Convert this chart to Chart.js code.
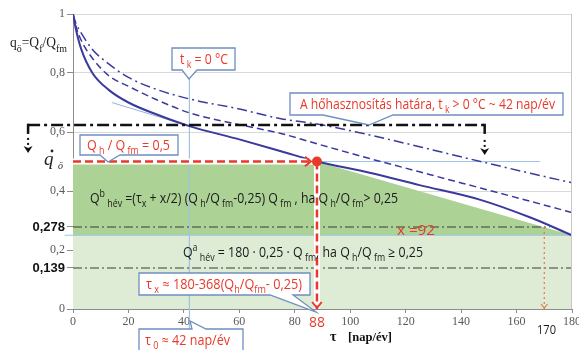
<!DOCTYPE html>
<html>
<head>
<meta charset="utf-8">
<script src="https://cdn.jsdelivr.net/npm/chart.js@4"></script>
<style>
html,body{margin:0;padding:0;background:#fff}
</style>
</head>
<body>
<canvas id="chart" width="579" height="350"></canvas>
<script>
// duration curves
const days     = [0, 1, 3, 7, 13, 20, 30, 42, 60, 75, 88, 107, 125, 147, 165, 180];
const qSolid   = [1, 0.95, 0.88, 0.80, 0.742, 0.70, 0.66, 0.62, 0.575, 0.535, 0.50, 0.462, 0.42, 0.37, 0.31, 0.25];
const qDashed  = [1, 0.96, 0.91, 0.85, 0.79, 0.755, 0.71, 0.665, 0.625, 0.595, 0.56, 0.51, 0.465, 0.41, 0.365, 0.327];
const qDashDot = [1, 0.97, 0.935, 0.88, 0.83, 0.785, 0.745, 0.712, 0.678, 0.645, 0.627, 0.59, 0.55, 0.50, 0.46, 0.428];
const tangentDays = [14, 42];
const tangentQ    = [0.70, 0.62];

const xTicks = [0, 20, 40, 60, 80, 100, 120, 140, 160, 180];
const yTicks = [0, 0.2, 0.4, 0.6, 0.8, 1];
const yMarks = [0.139, 0.278];

const tauX = 88, tauMax = 170, tau0 = 42;
const qh = 0.5, qMin = 0.25, qLimit = 0.624;

const red = '#e8392b';
const blue = '#3a3a9c';
const pts = (xs, ys) => xs.map((x, i) => ({x: x, y: ys[i]}));
const clear = 'rgba(0,0,0,0)';

function rich(ctx, parts, left, base, o) {
  const f = k => (o.italic ? 'italic ' : '') + (o.weight || 'normal') + ' ' +
    (k === 'n' ? o.size : Math.round(o.size * 0.7)) + 'px ' + o.family;
  let w = 0;
  parts.forEach(p => { ctx.font = f(p[1]); w += ctx.measureText(p[0]).width; });
  const sx = o.width ? o.width / w : 1;
  ctx.save();
  ctx.translate(left, base);
  ctx.scale(sx, 1);
  ctx.fillStyle = o.color;
  ctx.textAlign = 'left';
  ctx.textBaseline = 'alphabetic';
  let cx = 0;
  parts.forEach(p => {
    ctx.font = f(p[1]);
    const dy = p[1] === 'sub' ? o.size * 0.3 : p[1] === 'sup' ? -o.size * 0.42 : 0;
    ctx.fillText(p[0], cx, dy);
    cx += ctx.measureText(p[0]).width;
  });
  ctx.restore();
}

function callout(ctx, x0, y0, x1, y1, side, ba, bb, tx, ty) {
  ctx.beginPath();
  ctx.moveTo(x0, y0);
  if (side === 'top') { ctx.lineTo(ba, y0); ctx.lineTo(tx, ty); ctx.lineTo(bb, y0); }
  ctx.lineTo(x1, y0);
  ctx.lineTo(x1, y1);
  if (side === 'bottom') { ctx.lineTo(bb, y1); ctx.lineTo(tx, ty); ctx.lineTo(ba, y1); }
  ctx.lineTo(x0, y1);
  ctx.closePath();
  ctx.fillStyle = '#fff';
  ctx.fill();
  ctx.strokeStyle = '#6f8fc0';
  ctx.lineWidth = 1.3;
  ctx.setLineDash([]);
  ctx.stroke();
}

function chevron(ctx, x, y, dir, s) {
  ctx.beginPath();
  if (dir === 'right') { ctx.moveTo(x - s, y - s * 0.8); ctx.lineTo(x, y); ctx.lineTo(x - s, y + s * 0.8); }
  else { ctx.moveTo(x - s * 0.8, y - s); ctx.lineTo(x, y); ctx.lineTo(x + s * 0.8, y - s); }
  ctx.stroke();
}

const annot = {
  id: 'annot',
  afterDatasetsDraw(chart) {
    const ctx = chart.ctx, X = chart.scales.x, Y = chart.scales.y, a = chart.chartArea;
    const px = v => X.getPixelForValue(v), py = v => Y.getPixelForValue(v);
    ctx.save();

    // right frame
    ctx.strokeStyle = '#c8c8c8'; ctx.lineWidth = 1;
    ctx.beginPath(); ctx.moveTo(a.right - 0.5, a.top); ctx.lineTo(a.right - 0.5, a.bottom); ctx.stroke();

    // red arrow heads
    ctx.setLineDash([]);
    ctx.strokeStyle = red; ctx.lineWidth = 2;
    chevron(ctx, px(tauX) - 6, py(qh), 'right', 6);
    chevron(ctx, px(tauX), py(0) - 1, 'down', 6);
    ctx.strokeStyle = '#f0704a'; ctx.lineWidth = 1.2;
    chevron(ctx, px(tauMax), py(0) - 1, 'down', 4);

    // heat use limit line with bent ends
    const y0 = py(qLimit), xl = px(-16.2), xr = px(148.5);
    ctx.strokeStyle = '#111'; ctx.fillStyle = '#111'; ctx.lineWidth = 2.5;
    ctx.setLineDash([12, 4, 3, 4]);
    ctx.beginPath(); ctx.moveTo(xl, y0); ctx.lineTo(xr, y0); ctx.stroke();
    ctx.setLineDash([]);
    [[xl, 28], [xr, 30]].forEach(([xx, len]) => {
      ctx.beginPath(); ctx.moveTo(xx, y0 - 1.2); ctx.lineTo(xx, y0 + 9); ctx.stroke();
      ctx.fillRect(xx - 1, y0 + len - 15, 2, 2);
      ctx.fillRect(xx - 1, y0 + len - 10, 2, 2);
      ctx.beginPath();
      ctx.moveTo(xx - 4.5, y0 + len - 7);
      ctx.lineTo(xx, y0 + len - 5);
      ctx.lineTo(xx + 4.5, y0 + len - 7);
      ctx.lineTo(xx, y0 + len);
      ctx.closePath(); ctx.fill();
    });

    // q dot symbol
    ctx.fillStyle = '#222';
    ctx.font = 'italic 19px "Liberation Serif"';
    ctx.fillText('q', 44, 165);
    ctx.beginPath(); ctx.arc(52, 151, 1.4, 0, Math.PI * 2); ctx.fill();
    ctx.font = 'italic 10px "Liberation Serif"';
    ctx.fillText('ö', 58, 169);

    // axis titles
    rich(ctx, [['q', 'n'], ['ö', 'sub'], ['=Q', 'n'], ['f', 'sub'], ['/Q', 'n'], ['fm', 'sub']], 10, 47,
      {size: 15, family: '"Liberation Serif"', color: '#222', width: 57});
    ctx.fillStyle = '#111';
    ctx.font = 'bold 14px "Liberation Serif"';
    ctx.fillText('τ', 330, 341);
    rich(ctx, [['[nap/év]', 'n']], 348, 341, {size: 13, family: '"Liberation Serif"', weight: 'bold', color: '#111', width: 44});

    // plain labels
    rich(ctx, [['170', 'n']], 537, 334, {size: 13, family: '"Open Sans"', color: '#1a1a1a', width: 19});
    rich(ctx, [['x =92', 'n']], 397, 235, {size: 14, family: '"Open Sans"', color: red, width: 38});

    // formulas
    rich(ctx, [['Q', 'n'], ['b', 'sup'], [' hév', 'sub'], [' =(τ', 'n'], ['x', 'sub'], [' + x/2) (Q', 'n'], [' h', 'sub'],
      ['/Q', 'n'], [' fm', 'sub'], ['-0,25) Q', 'n'], [' fm', 'sub'], [' , ha Q', 'n'], [' h', 'sub'], ['/Q', 'n'],
      [' fm', 'sub'], ['> 0,25', 'n']], 90, 203, {size: 14, family: '"Open Sans"', color: '#1a1a1a', width: 308});
    rich(ctx, [['Q', 'n'], ['a', 'sup'], [' hév', 'sub'], [' = 180 · 0,25 · Q', 'n'], [' fm', 'sub'], [', ha Q', 'n'],
      [' h', 'sub'], ['/Q', 'n'], [' fm', 'sub'], [' ≥ 0,25', 'n']], 183, 257,
      {size: 14, family: '"Open Sans"', color: '#1a1a1a', width: 240});

    // callouts
    const ro = (w) => ({size: 14, family: '"Open Sans"', color: red, width: w});
    callout(ctx, 172, 48, 235, 70, 'bottom', 182, 197, 189, 79);
    rich(ctx, [['t', 'n'], [' k', 'sub'], [' = 0 °C', 'n']], 180, 64, ro(48));

    callout(ctx, 290, 93, 563, 115, 'bottom', 323, 393, 369, 125);
    rich(ctx, [['A hőhasznosítás határa, t', 'n'], [' k', 'sub'], [' > 0 °C ~ 42 nap/év', 'n']], 300, 109, ro(255));

    callout(ctx, 80, 135, 178, 155, 'bottom', 100, 120, 108, 162);
    rich(ctx, [['Q', 'n'], [' h', 'sub'], [' / Q', 'n'], [' fm', 'sub'], [' = 0,5', 'n']], 87, 150, ro(83));

    callout(ctx, 139, 273, 310, 295, 'bottom', 270, 293, 316, 312);
    rich(ctx, [['τ', 'n'], [' x', 'sub'], [' ≈ 180-368(Q', 'n'], ['h', 'sub'], ['/Q', 'n'], ['fm', 'sub'], ['- 0,25)', 'n']],
      146, 289, ro(156));

    callout(ctx, 139, 329, 243, 356, 'top', 192, 206, 190, 321);
    rich(ctx, [['τ', 'n'], [' 0', 'sub'], [' ≈ 42 nap/év', 'n']], 145, 345, ro(85));

    ctx.restore();
  }
};

const line = (data, color, width, dash, order, extra) => Object.assign({
  data: data, borderColor: color, borderWidth: width, borderDash: dash || [],
  pointRadius: 0, fill: false, order: order
}, extra || {});

new Chart(document.getElementById('chart').getContext('2d'), {
  type: 'line',
  data: {
    datasets: [
      line(pts([0, 180], [qMin, qMin]), clear, 0, null, 30, {fill: 'origin', backgroundColor: '#deecd5'}),
      line(pts([0, tauX, 180], [qh, qh, qMin]), clear, 0, null, 29, {fill: {value: qMin}, backgroundColor: '#acd296'}),
      line(pts([-3, 180], [qMin, qMin]), '#9dc3e6', 1, null, 25, {clip: false}),
      line(pts([tauX, 168.5], [qh, qh]), '#9dc3e6', 1.2, null, 25),
      line(pts([tau0, tau0], [0.81, -0.068]), '#9dc3e6', 1, null, 25, {clip: false}),
      line(pts([0, 172], [yMarks[1], yMarks[1]]), '#3a3a3a', 1.2, [9, 3, 2, 3], 20),
      line(pts([0, 180], [yMarks[0], yMarks[0]]), '#3a3a3a', 1.2, [9, 3, 2, 3], 20),
      line(pts(tangentDays, tangentQ), '#8fb4e0', 1, null, 18),
      line(pts(days, qDashDot), blue, 1.5, [10, 4, 2, 4], 12, {cubicInterpolationMode: 'monotone'}),
      line(pts(days, qDashed), blue, 1.5, [7, 4], 11, {cubicInterpolationMode: 'monotone'}),
      line(pts(days, qSolid), blue, 2, null, 10, {cubicInterpolationMode: 'monotone'}),
      line(pts([0, tauX], [qh, qh]), '#fff', 6, null, 7),
      line(pts([tauX, tauX], [qh, 0]), '#fff', 6, null, 7),
      line(pts([0, tauX - 2], [qh, qh]), red, 2.5, [8, 4], 5),
      line(pts([tauX, tauX], [qh, 0]), red, 2.5, [8, 4], 5),
      line(pts([tauMax, tauMax], [yMarks[1], 0]), '#f0704a', 1.2, [2, 3], 5),
      line(pts([tauX], [qh]), red, 0, null, 1, {showLine: false, pointRadius: 5, pointBackgroundColor: red})
    ]
  },
  options: {
    responsive: false,
    animation: false,
    events: [],
    layout: {padding: {top: 14, right: 7, left: 0, bottom: 0}},
    plugins: {legend: {display: false}, tooltip: {enabled: false}},
    scales: {
      x: {
        type: 'linear', min: 0, max: 180,
        afterBuildTicks: s => { s.ticks = xTicks.concat([tauX]).sort((p, q) => p - q).map(v => ({value: v})); },
        afterFit: s => { s.height = 41; s.paddingLeft = 0; s.paddingRight = 0; },
        ticks: {
          autoSkip: false, maxRotation: 0, padding: 2,
          callback: v => String(v),
          font: c => c.tick && c.tick.value === tauX ? {family: '"Open Sans"', size: 14} : {family: '"Liberation Serif"', size: 12},
          color: c => c.tick && c.tick.value === tauX ? red : '#595959'
        },
        grid: {
          drawOnChartArea: false, tickLength: 4,
          tickColor: c => c.tick && c.tick.value === tauX ? clear : '#8c8c8c'
        },
        border: {color: '#8c8c8c'}
      },
      y: {
        min: 0, max: 1,
        afterBuildTicks: s => { s.ticks = yTicks.concat(yMarks).sort((p, q) => p - q).map(v => ({value: v})); },
        afterFit: s => { s.width = 73; },
        ticks: {
          autoSkip: false, padding: 2,
          callback: v => String(+v.toFixed(3)).replace('.', ','),
          font: c => c.tick && yMarks.includes(c.tick.value) ? {family: '"Liberation Sans"', size: 13, weight: 'bold'} : {family: '"Liberation Serif"', size: 12},
          color: c => c.tick && yMarks.includes(c.tick.value) ? '#111' : '#595959'
        },
        grid: {
          tickLength: 6, tickColor: '#8c8c8c',
          color: c => c.tick && (yMarks.includes(c.tick.value) || c.tick.value === 0) ? clear : '#d9d9d9'
        },
        border: {color: '#8c8c8c'}
      }
    }
  },
  plugins: [annot]
});
</script>
</body>
</html>
